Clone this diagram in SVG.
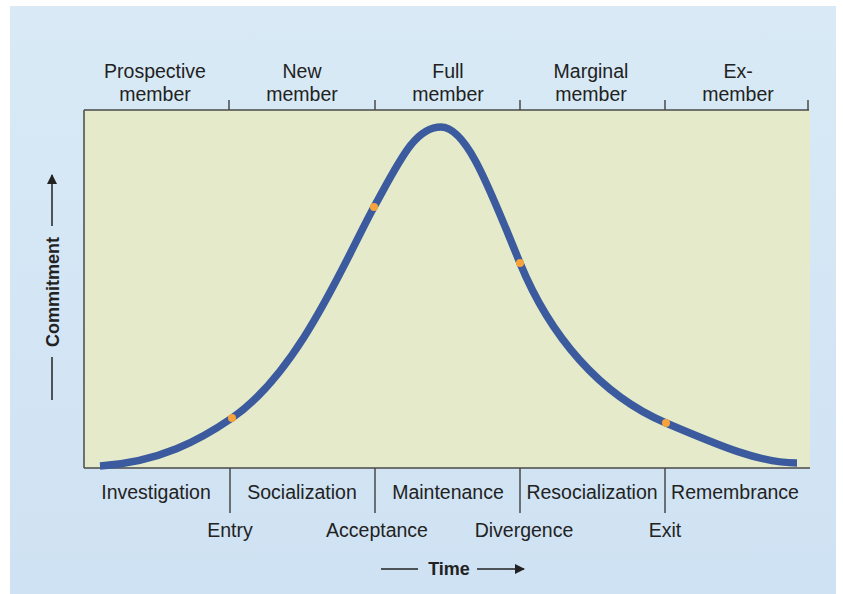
<svg xmlns="http://www.w3.org/2000/svg" width="843" height="594" viewBox="0 0 843 594">
<style>
.lbl{font-family:"Liberation Sans",Arial,sans-serif;font-size:19.5px;fill:#222222;text-anchor:middle}
.ax{font-family:"Liberation Sans",Arial,sans-serif;font-weight:bold;font-size:18px;fill:#222222;text-anchor:middle}
.ln{stroke:#4a4a4a;stroke-width:1.5;fill:none}
.dot{fill:#f5a33a}
</style>
<defs>
<linearGradient id="bg" x1="0" y1="0" x2="0" y2="1">
<stop offset="0" stop-color="#d9eaf6"/>
<stop offset="1" stop-color="#cfe2f3"/>
</linearGradient>
<marker id="ah" viewBox="0 0 10 10" refX="9" refY="5" markerWidth="11" markerHeight="10" markerUnits="userSpaceOnUse" orient="auto">
<path d="M0,0 L10,5 L0,10 z" fill="#222222"/>
</marker>
</defs>
<rect x="0" y="0" width="843" height="594" fill="#ffffff"/>
<rect x="10" y="6" width="826" height="588" fill="url(#bg)"/>
<g id="plot">
<rect x="84" y="110" width="726" height="358" fill="#e5ebca"/>
</g>
<g id="axes">
<path class="ln" d="M84,110 H809 M84,110 V468 M84,468 H810"/>
<path class="ln" d="M229,110 V100 M375,110 V100 M520,110 V100 M665,110 V100 M808,110 V100"/>
<path class="ln" d="M230,468 V513 M375,468 V513 M520,468 V513 M665,468 V513"/>
</g>
<g id="curve">
<path d="M100,466 C160,462 200,440 232,418 C300,371 345,260 374,207 C400,160 415,127 441,127 C467,127 490,190 520,263 C550,336 600,395 666,423 C720,446 760,463 797,463" fill="none" stroke="#3b5b9e" stroke-width="7.5" stroke-linecap="butt"/>
<circle class="dot" cx="232" cy="418" r="4"/>
<circle class="dot" cx="374" cy="207" r="4"/>
<circle class="dot" cx="520" cy="263" r="4"/>
<circle class="dot" cx="666" cy="423" r="4"/>
</g>
<g id="top-labels">
<text class="lbl" x="155" y="78">Prospective</text>
<text class="lbl" x="155" y="101">member</text>
<text class="lbl" x="302" y="78">New</text>
<text class="lbl" x="302" y="101">member</text>
<text class="lbl" x="448" y="78">Full</text>
<text class="lbl" x="448" y="101">member</text>
<text class="lbl" x="591" y="78">Marginal</text>
<text class="lbl" x="591" y="101">member</text>
<text class="lbl" x="738" y="78">Ex-</text>
<text class="lbl" x="738" y="101">member</text>
</g>
<g id="phase-labels">
<text class="lbl" x="156" y="499">Investigation</text>
<text class="lbl" x="302" y="499">Socialization</text>
<text class="lbl" x="448" y="499">Maintenance</text>
<text class="lbl" x="592" y="499">Resocialization</text>
<text class="lbl" x="735" y="499">Remembrance</text>
</g>
<g id="transition-labels">
<text class="lbl" x="230" y="537">Entry</text>
<text class="lbl" x="377" y="537">Acceptance</text>
<text class="lbl" x="524" y="537">Divergence</text>
<text class="lbl" x="665" y="537">Exit</text>
</g>
<g id="commitment-axis">
<line x1="52" y1="400" x2="52" y2="357" stroke="#222222" stroke-width="1.5"/>
<line x1="52" y1="226" x2="52" y2="175" stroke="#222222" stroke-width="1.5" marker-end="url(#ah)"/>
<text class="ax" font-size="19" transform="translate(58.5,292) rotate(-90)">Commitment</text>
</g>
<g id="time-axis">
<line x1="381" y1="569" x2="418" y2="569" stroke="#222222" stroke-width="1.5"/>
<line x1="477" y1="569" x2="524" y2="569" stroke="#222222" stroke-width="1.5" marker-end="url(#ah)"/>
<text class="ax" x="449" y="575">Time</text>
</g>
</svg>
